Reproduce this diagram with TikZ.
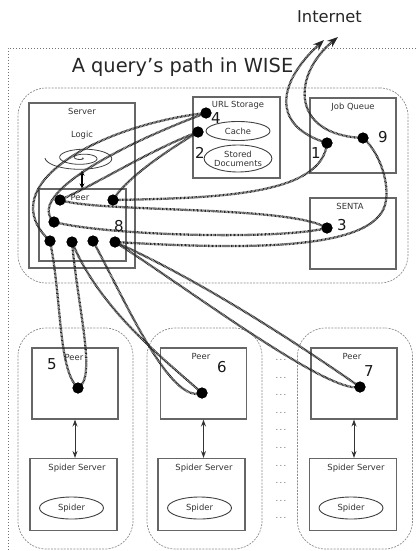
\documentclass[tikz,border=0pt]{standalone}
\usepackage{fontspec}
\setmainfont{DejaVu Sans}
\usetikzlibrary{arrows.meta,shapes.geometric}
\begin{document}
\begin{tikzpicture}[x=1pt,y=-1pt,
  box/.style={draw=black!60, line width=1.1pt, inner sep=0pt, rectangle},
  group/.style={draw=black!45, line width=0.7pt, dash pattern=on 2pt off 1.2pt,
    rounded corners=28pt, inner sep=0pt, rectangle},
  frame/.style={draw=black!55, line width=0.8pt, dash pattern=on 0.8pt off 2.2pt},
  lbl/.style={font=\fontsize{8.4}{10}\selectfont, text=black!80, inner sep=0pt},
  num/.style={font=\fontsize{15}{18}\selectfont, text=black!90, inner sep=0pt},
  oval/.style={ellipse, draw=black!75, line width=0.9pt, inner sep=0pt,
    font=\fontsize{8.4}{10}\selectfont, text=black!80, align=center},
  dot/.style={circle, fill=black, inner sep=0pt, minimum size=11pt},
  link/.style={line width=2.3pt, draw=black!85, dash pattern=on 0.75pt off 0.6pt},
  nettip/.style={-{Stealth[length=11pt,width=8pt]}},
  biarrow/.style={draw=black!80, line width=1pt,
    {Stealth[length=7pt,width=5pt]}-{Stealth[length=7pt,width=5pt]}},
  logicarrow/.style={draw=black, line width=1.6pt,
    {Stealth[length=5pt,width=5pt]}-{Stealth[length=5pt,width=5pt]}}
]
\useasboundingbox (0,0) rectangle (416,551);

% outer frame and headings
\draw[frame] (416,48) -- (8,48) -- (8,551);
\node[font=\fontsize{16.3}{20}\selectfont, text=black!85, inner sep=0pt] (inet) at (329.5,16.5) {Internet};
\node[font=\fontsize{19.4}{24}\selectfont, text=black!85, inner sep=0pt, anchor=base] (title) at (182.5,73) {A query's path in WISE};
\coordinate (netL) at (324,40);
\coordinate (netR) at (338,37);

% central site
\node[group, minimum width=390pt, minimum height=195pt] (site) at (213,185.5) {};
\node[box, minimum width=106pt, minimum height=165pt] (server) at (82,185.5) {};
\node[lbl] (serverlbl) at (82,111) {Server};
\node[lbl] (logiclbl) at (82,135) {Logic};
\draw[black!75, line width=0.8pt] plot[domain=0:900, samples=240, smooth]
  ({82+0.041111*\x*cos(\x)}, {158+0.013889*\x*sin(\x)});
\node[inner sep=0pt, minimum width=74pt, minimum height=25pt] (logic) at (82,158) {};
\node[box, minimum width=87pt, minimum height=72pt] (speer) at (82.5,225) {};
\node[lbl] (speerlbl) at (80,197) {Peer};
\draw[logicarrow] (logic.south) -- (logic.south |- speer.north);

\node[box, minimum width=87pt, minimum height=81pt] (url) at (236.5,137.5) {};
\node[lbl] (urllbl) at (238,105) {URL Storage};
\node[oval, minimum width=64pt, minimum height=19pt] (cache) at (238,131) {Cache};
\node[oval, minimum width=65pt, minimum height=27pt] (docs) at (238,158.5) {Stored\\[-1pt]Documents};

\node[box, minimum width=86pt, minimum height=75pt] (jobq) at (353,135.5) {};
\node[lbl] (jobqlbl) at (353,107) {Job Queue};
\node[box, minimum width=86pt, minimum height=71pt] (senta) at (353,233.5) {};
\node[lbl] (sentalbl) at (350,206) {SENTA};

% remote sites
\foreach \n/\gx/\px/\sx in {1/75.5/75/73.5, 2/204.5/203.5/201.5, 3/355/354/353} {
  \node[group, minimum width=115pt, minimum height=221pt] (grp\n) at (\gx,438.5) {};
  \node[box, minimum width=86pt, minimum height=71pt] (peer\n) at (\px,383.5) {};
  \node[box, minimum width=87pt, minimum height=72pt] (spsrv\n) at (\sx,494.5) {};
  \node[oval, minimum width=64pt, minimum height=22pt] (spider\n) at (\sx-2,508) {Spider};
  \draw[biarrow] (peer\n.south) -- (peer\n.south |- spsrv\n.north);
}
\node[lbl] (peerlbl1) at (74,357) {Peer};
\node[lbl] (peerlbl2) at (201,356) {Peer};
\node[lbl] (peerlbl3) at (352,356) {Peer};
\node[lbl] (spsrvlbl1) at (77,468) {Spider Server};
\node[lbl] (spsrvlbl2) at (204,468) {Spider Server};
\node[lbl] (spsrvlbl3) at (356,468) {Spider Server};
\foreach \k in {0,...,9} {
  \node[lbl, text=black!60] (more\k) at (281,{360+17.6*\k}) {.\,.\,.};
}

% message endpoints
\node[dot] (d1) at (327,143) {};
\node[dot] (d9) at (363,138) {};
\node[dot] (d3) at (327,228) {};
\node[dot] (d4) at (206,113) {};
\node[dot] (d2) at (198,132) {};
\node[dot] (dA) at (60,200) {};
\node[dot] (dB) at (113,200) {};
\node[dot] (dC) at (54,222) {};
\node[dot] (dD) at (50,241) {};
\node[dot] (dE) at (72,242) {};
\node[dot] (dF) at (93,241) {};
\node[dot] (dG) at (115,242) {};
\node[dot] (d5) at (78,388) {};
\node[dot] (d6) at (202,393) {};
\node[dot] (d7) at (360,387) {};

% message paths
\draw[link, nettip] (d1.center) .. controls (268,125) and (280,80) .. (netL);
\draw[link, nettip] (d9.center) .. controls (290,135) and (292,75) .. (netR);
\draw[link] (d1.center) .. controls (322,195) and (220,198) .. (dB.center);
\draw[link] (dA.center) .. controls (100,213) and (290,205) .. (d3.center);
\draw[link] (dC.center) .. controls (110,236) and (280,240) .. (d3.center);
\draw[link] (dG.center) .. controls (250,250) and (372,250) .. (385,205)
  .. controls (391,183) and (378,150) .. (d9.center);
\draw[link] (d4.center) .. controls (100,125) and (-10,185) .. (dD.center);
\draw[link] (d4.center) .. controls (120,145) and (25,195) .. (dC.center);
\draw[link] (d2.center) .. controls (150,150) and (95,185) .. (dA.center);
\draw[link] (d2.center) .. controls (160,155) and (125,180) .. (dB.center);
\draw[link] (dD.center) .. controls (62,300) and (58,370) .. (d5.center);
\draw[link] (dE.center) .. controls (78,310) and (97,378) .. (d5.center);
\draw[link] (dE.center) .. controls (100,310) and (165,360) .. (d6.center);
\draw[link] (dF.center) .. controls (125,300) and (170,405) .. (d6.center);
\draw[link] (dG.center) .. controls (200,280) and (300,345) .. (d7.center);
\draw[link] (dG.center) .. controls (190,290) and (330,395) .. (d7.center);

% endpoints on top of the paths
\foreach \d in {d1,d9,d3,d4,d2,dA,dB,dC,dD,dE,dF,dG,d5,d6,d7} {
  \fill[black] (\d.center) circle (5.5pt);
}

% endpoint numbers
\node[num] (n4) at (216,118) {4};
\node[num] (n2) at (200,153) {2};
\node[num] (n1) at (316,153) {1};
\node[num] (n9) at (383,137) {9};
\node[num] (n3) at (342,225) {3};
\node[num] (n8) at (119,226) {8};
\node[num] (n5) at (52,364) {5};
\node[num] (n6) at (222,367) {6};
\node[num] (n7) at (369,371) {7};
\end{tikzpicture}
\end{document}
